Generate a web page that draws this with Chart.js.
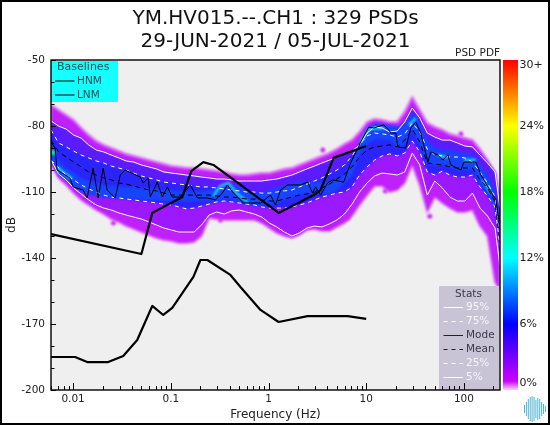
<!DOCTYPE html>
<html>
<head>
<meta charset="utf-8">
<title>YM.HV015 PSD PDF</title>
<style>
  html, body { margin: 0; padding: 0; background: #fff; }
  canvas { display: block; }
</style>
<script src="https://cdn.jsdelivr.net/npm/chart.js@4/dist/chart.umd.min.js"></script>
</head>
<body>
<canvas id="psdChart" width="550" height="425"></canvas>
<script>
// =============================================================================
// DATA (frequency in Hz, power in dB)
// =============================================================================
const titleLines = ['YM.HV015.--.CH1 : 329 PSDs', '29-JUN-2021 / 05-JUL-2021'];

const xLabelValues = [0.01, 0.1, 1, 10, 100];
const yLabelValues = [-50, -80, -110, -140, -170, -200];
const colorbarLabels = ['30+', '24%', '18%', '12%', '6%', '0%'];
const colorbarValues = [30, 24, 18, 12, 6, 0];
const baselineNames = ['HNM', 'LNM'];
const statNames = ['95%', '75%', 'Mode', 'Mean', '25%', '5%'];

const freqs = [
  0.00595, 0.0071, 0.00848, 0.01013, 0.01209, 0.01444, 0.01724, 0.02058, 0.02458, 0.02935,
  0.03504, 0.04184, 0.04996, 0.05965, 0.07122, 0.08504, 0.1015, 0.1212, 0.1448, 0.1729,
  0.2064, 0.2465, 0.2943, 0.3514, 0.4196, 0.501, 0.5982, 0.7142, 0.8528, 1.018,
  1.216, 1.452, 1.733, 2.07, 2.471, 2.951, 3.523, 4.207, 5.023, 5.998,
  7.162, 8.551, 10.21, 12.19, 14.56, 17.38, 20.76, 24.78, 29.59, 35.33,
  42.19, 50.37, 60.15, 71.82, 85.75, 102.4, 122.3, 146, 174.3, 208.2, 233
];

const p95 = [
  -77.7, -80, -81.4, -84.1, -85.5, -88.6, -90.9, -91.8, -93.2, -94.5,
  -95.9, -96.4, -97.7, -98.6, -99.5, -100.9, -101.4, -101.8, -102.3, -102.7,
  -103.2, -103.6, -104.1, -104.1, -104.5, -105, -105, -105, -105, -104.5,
  -104.1, -103.2, -102.3, -100.9, -99.5, -98.2, -96.8, -95.5, -94.1, -92.7,
  -91.4, -88.6, -83.2, -80.5, -80.9, -82.7, -82.3, -78.2, -71.8, -76.4,
  -83.2, -85, -86.4, -86.4, -87.7, -89.1, -89.5, -93.2, -96.8, -100.9, -116.8
];
const p75 = [
  -81.8, -87.7, -89.5, -91.4, -93.2, -94.5, -95.9, -96.8, -98.2, -99.1,
  -100, -101.4, -102.7, -103.6, -104.5, -105.5, -105.9, -106.4, -106.8, -107.3,
  -107.7, -107.7, -108.2, -108.6, -109.1, -109.5, -110, -110, -110.5, -110.5,
  -110, -109.5, -109.1, -107.7, -106.4, -105, -103.6, -101.8, -100, -97.7,
  -93.6, -88.2, -84.5, -83.2, -83.6, -84.1, -85, -83.6, -78.6, -82.7,
  -90.5, -93.2, -93.6, -94.1, -94.1, -94.5, -96.4, -100.9, -105.9, -112.3, -129.5
];
const mean = [
  -86.4, -91.8, -94.1, -96.4, -98.6, -100.9, -102.3, -103.6, -104.5, -105.9,
  -106.4, -107.3, -108.2, -109.1, -109.5, -110.5, -111.4, -111.4, -111.4, -111.4,
  -111.4, -111.4, -111.8, -112.3, -112.3, -112.7, -113.2, -113.2, -113.6, -114.1,
  -114.1, -113.2, -112.3, -111.4, -110.9, -110, -108.2, -106.4, -104.1, -101.8,
  -98.6, -94.1, -90.9, -89.5, -89.1, -88.6, -89.5, -86.4, -81.4, -87.3,
  -96.8, -97.3, -97.7, -98.6, -99.1, -99.1, -99.1, -104.5, -108.2, -114.5, -131.8
];
const p25 = [
  -95.5, -99.1, -102.3, -104.5, -106.8, -108.6, -110, -111.4, -112.3, -112.7,
  -113.2, -113.6, -114.1, -114.5, -115, -115.5, -115.9, -116.8, -117.7, -117.3,
  -116.4, -115.5, -114.5, -114.1, -114.5, -115, -115.5, -115.9, -116.8, -117.3,
  -117.3, -117.3, -116.8, -115.9, -115, -113.6, -112.3, -111.4, -110.5, -110,
  -107.7, -102.3, -98.6, -95.5, -93.6, -92.7, -93.6, -92.3, -86.8, -91.8,
  -100.9, -102.3, -100.5, -102.3, -103.2, -103.2, -102.3, -107.7, -111.8, -116.8, -134.1
];
const p5 = [
  -95.5, -101.8, -104.5, -108.2, -110.9, -113.6, -115.9, -117.3, -118.2, -119.5,
  -120.5, -121.4, -122.3, -123.6, -125, -126.4, -127.3, -128.2, -128.2, -128.2,
  -125, -120.5, -119.1, -120, -118.6, -118.2, -119.1, -120, -121.4, -124.1,
  -125.9, -128.2, -130, -128.6, -126.4, -125.5, -125.9, -124.5, -122.7, -120,
  -115.5, -110, -105.9, -102.7, -101.4, -101.8, -102.3, -100.9, -92.3, -97.7,
  -111.4, -105, -108.2, -112.3, -114.1, -114.1, -110.5, -117.3, -120.9, -126.4, -143.2
];

// edges of the coloured PDF cloud
const cloudTop = [
  -70.5, -72.7, -75, -77.3, -80.9, -84.1, -86.8, -88.6, -90, -91.4,
  -92.7, -93.6, -94.5, -95.5, -96.4, -97.3, -98.2, -98.6, -99.1, -99.1,
  -99.5, -100, -100.5, -100.9, -101.8, -102.3, -102.3, -101.8, -101.4, -101.4,
  -100.5, -99.5, -99.1, -97.7, -96.4, -95, -93.6, -92.3, -90.5, -88.2,
  -86.4, -82.7, -78.2, -76.8, -77.3, -78.2, -78.2, -73.6, -66.8, -72.7,
  -78.6, -80.5, -81.8, -83.6, -84.5, -85.5, -86.4, -90.5, -95.5, -101.4, -113.6
];
const cloudBottom = [
  -97.7, -103.6, -106.8, -110.5, -113.6, -115.9, -118.2, -120, -122.3, -123.6,
  -125.5, -126.8, -128.2, -129.5, -130.9, -131.8, -132.3, -133.2, -133.2, -132.7,
  -130, -121.8, -122.3, -122.7, -122.7, -122.7, -122.7, -122.7, -124.1, -126.4,
  -128.6, -130, -130.9, -129.5, -127.3, -126.8, -127.7, -127.7, -125.9, -124.1,
  -120.9, -115.9, -111.4, -107.3, -107.3, -110, -109.1, -105.9, -97.7, -106.8,
  -119.1, -112.3, -115, -117.3, -119.1, -119.1, -118.2, -125.5, -130, -150.9, -154.5
];
// brighter ridge of the cloud around the mode
const ridgeTop = [
  -86.4, -95.5, -99.1, -100.9, -103.6, -105, -105.9, -106.8, -107.3, -107.3,
  -107.7, -107.7, -108.2, -108.2, -108.6, -109.1, -109.1, -109.5, -109.5, -109.5,
  -109.5, -109.1, -108.2, -107.3, -106.8, -107.7, -109.5, -110.5, -110.5, -109.1,
  -108.2, -106.8, -105.9, -105.5, -105, -105.5, -105.5, -105, -104.5, -101.8,
  -95.5, -87.3, -80.9, -78.6, -79.1, -79.5, -80, -79.1, -73.6, -78.2,
  -86.4, -90, -90.9, -90.9, -91.8, -92.7, -93.2, -97.7, -102.3, -109.1, -122.7
];
const ridgeBottom = [
  -95.5, -102.3, -104.5, -107.7, -110, -111.4, -111.8, -112.7, -112.7, -113.2,
  -113.2, -113.2, -113.6, -113.6, -113.6, -114.1, -114.1, -114.1, -114.1, -114.1,
  -114.1, -114.1, -114.5, -113.6, -113.2, -114.5, -115.5, -116.4, -115.9, -115.5,
  -115.5, -113.6, -112.3, -111.4, -110.9, -110.5, -110.9, -110.9, -109.1, -105.9,
  -102.3, -93.2, -88.6, -86.4, -86.4, -86.4, -90, -88.6, -81.8, -88.6,
  -97.7, -97.7, -97.7, -99.1, -100, -100, -100, -105.9, -110.5, -118.2, -131.8
];

// the spots where the PDF gets to cyan, null breaks the streak
const hotFreqs = [
  0.00685, 0.0081, 0.0098, 0.1, 0.273, 0.3221, 0.389, 0.47, 0.61, 1,
  8.785, 10.62, 15.11, 20, 27.3, 32.2, 40, 54.1, 68.5, 80, 100, 132.8, 140, 156.7, 189
];
const hotDb = [
  -98.6, -101.4, -104.1, null, -111.8, -107.3, -105.9, -110.5, -114.5, null,
  -87.3, -81.4, -80.9, null, -79.5, -76.4, null, -93.2, -94.5, null, -95.5, -95.5, null, -104.5, -110.5
];
const greenFreqs = [0.00595, 0.00654];
const greenDb = [-91.8, -92.3];

// loose blobs off the main cloud
const speckFreqs = [0.02586, 0.3221, 3.6, 6.46, 15.7, 20.5, 44.7, 93.2];
const speckDb = [-124.1, -122.7, -90.9, -121.8, -109.6, -107.3, -121, -83.6];

const modeFreqs = [
  0.00595, 0.00654, 0.00685, 0.00931, 0.01, 0.01267, 0.01393, 0.01604, 0.01805, 0.02031,
  0.02234, 0.02698, 0.03034, 0.03414, 0.04866, 0.05224, 0.05877, 0.06166, 0.07278, 0.0819,
  0.09204, 0.1035, 0.1251, 0.1585, 0.187, 0.2366, 0.2858, 0.3373, 0.3793, 0.4375,
  0.5546, 0.8279, 1.048, 1.18, 1.327, 1.567, 2.13, 2.512, 2.826, 3.034,
  3.415, 4.027, 4.529, 5.875, 6.934, 8.785, 10.62, 11.94, 15.11, 17.02,
  17.83, 20.07, 21.05, 25.42, 28.59, 32.2, 36.2, 42.7, 45.9, 54.1,
  60.9, 68.5, 73.6, 93.2, 100, 132.8, 149.4, 176.2, 212.8, 231
];
const modeDb = [
  -87.3, -90, -100, -103.6, -107.7, -109.1, -112.7, -99.1, -112.7, -99.1,
  -109.1, -112.7, -102.3, -100, -103.2, -105.9, -103.6, -112.3, -105.5, -112.3,
  -107.7, -112.3, -112.3, -106.8, -112.7, -112.7, -113.6, -110.5, -106.8, -110.5,
  -115, -115, -111.4, -115.9, -109.1, -106.8, -106.8, -105.5, -110.5, -107.7,
  -111.4, -105.9, -104.5, -105.5, -96.8, -87.3, -80.5, -80.9, -79.5, -81.8,
  -83.2, -83.2, -89.5, -90, -80.9, -78.2, -83.2, -96.4, -91.8, -93.2,
  -95.5, -93.2, -97.7, -100, -96.4, -96.4, -102.3, -107.7, -113.6, -125
];

const hnmFreqs = [0.00595, 0.05, 0.0646, 0.1312, 0.162, 0.2153, 0.273, 1.048, 1.268, 2.9, 3.41, 4.64, 10];
const hnmDb = [-129.1, -138.2, -119.5, -112.3, -100.5, -96.4, -97.7, -116.8, -119.5, -111.4, -109.1, -94.5, -89.1];

const lnmFreqs = [
  0.00595, 0.01048, 0.01393, 0.02286, 0.0326, 0.0453, 0.0646, 0.0837, 0.1035, 0.1703,
  0.2009, 0.2366, 0.4074, 0.5164, 0.8279, 1.268, 2.512, 6.46, 10
];
const lnmDb = [
  -185, -185, -187.3, -187.3, -184.5, -177.3, -161.8, -165.9, -162.7, -148.6,
  -140.9, -140.9, -147.7, -153.2, -163.6, -169.1, -166.4, -166.4, -167.7
];

// =============================================================================
// DATASETS
// =============================================================================
function pts(xs, ys) {
  return xs.map((x, i) => ({ x: x, y: ys[i] }));
}

const datasets = [];

function addLine(xs, ys, color, width, dash, order) {
  datasets.push({
    data: pts(xs, ys),
    borderColor: color,
    borderWidth: width,
    borderDash: dash || [],
    fill: false,
    order: order
  });
}

// band between two curves, the top curve fills down to the next dataset
function addBand(top, bottom, color, order, edge) {
  const line = edge || 'rgba(0,0,0,0)';
  const width = edge ? 3 : 0;
  datasets.push({ data: pts(freqs, top), backgroundColor: color, borderColor: line, borderWidth: width, fill: '+1', order: order });
  datasets.push({ data: pts(freqs, bottom), borderColor: line, borderWidth: width, fill: false, order: order });
}

addLine(hnmFreqs, hnmDb, '#000', 2.2, null, 1);
addLine(lnmFreqs, lnmDb, '#000', 2.2, null, 1);
addLine(modeFreqs, modeDb, '#000', 1, null, 2);
addLine(freqs, mean, '#000', 1, [5, 4], 3);
addLine(freqs, p95, '#fff', 1, null, 4);
addLine(freqs, p75, '#fff', 1, [4, 4], 4);
addLine(freqs, p25, '#fff', 1, [4, 4], 4);
addLine(freqs, p5, '#fff', 1, null, 4);
addLine(greenFreqs, greenDb, '#14f08c', 5, null, 5);
addLine(hotFreqs, hotDb, '#1ad2f2', 2.5, null, 6);
addBand(ridgeTop, ridgeBottom, '#1644ff', 7);
addBand(p75, p25, '#2a24ff', 8);
addBand(p95, mean, '#5a1cff', 9);
addBand(p95, p5, '#9c18ff', 10);
addBand(cloudTop, cloudBottom, '#c020fb', 11, 'rgba(226,110,245,0.5)');

datasets.push({
  data: pts(speckFreqs, speckDb),
  showLine: false,
  pointRadius: 2.5,
  pointBackgroundColor: '#cc30f8',
  pointBorderWidth: 0,
  order: 12
});

// =============================================================================
// DECORATION - plot background, ticks, frame, legends, colour bar, logo
// =============================================================================
const FONT = '"DejaVu Sans"';
const logoBars = [4, 7, 10, 12, 13, 12, 9, 11, 10, 7, 5, 3];

function drawStatLine(ctx, y, color, dash) {
  ctx.save();
  ctx.strokeStyle = color;
  ctx.lineWidth = 1;
  ctx.setLineDash(dash);
  ctx.beginPath();
  ctx.moveTo(443.5, y);
  ctx.lineTo(463, y);
  ctx.stroke();
  ctx.restore();
}

const decor = {
  id: 'decor',
  beforeDraw(chart) {
    const { ctx, chartArea: a } = chart;
    ctx.save();
    ctx.fillStyle = '#efefef';
    ctx.fillRect(a.left, a.top, a.right - a.left, a.bottom - a.top);
    ctx.restore();
  },
  // soften the edges of the cloud, the curves stay sharp
  beforeDatasetsDraw(chart) {
    chart.ctx.filter = 'blur(1px)';
  },
  beforeDatasetDraw(chart, args) {
    chart.ctx.filter = chart.data.datasets[args.index].order >= 5 ? 'blur(1px)' : 'none';
  },
  afterDatasetsDraw(chart) {
    chart.ctx.filter = 'none';
  },
  afterDraw(chart) {
    const { ctx, chartArea: a, scales } = chart;
    ctx.save();

    // baselines box
    ctx.fillStyle = '#14ffff';
    ctx.fillRect(51, 61, 67, 41);
    ctx.fillStyle = '#2b4a50';
    ctx.textBaseline = 'middle';
    ctx.textAlign = 'left';
    ctx.font = '11px ' + FONT;
    ctx.fillText('Baselines', 57, 67.5);
    ctx.font = '10.5px ' + FONT;
    baselineNames.forEach((name, i) => {
      const y = 81 + i * 14;
      ctx.fillStyle = '#2b4a50';
      ctx.fillText(name, 77, y);
      ctx.strokeStyle = '#000';
      ctx.lineWidth = 1;
      ctx.beginPath();
      ctx.moveTo(55, y);
      ctx.lineTo(74.5, y);
      ctx.stroke();
    });

    // stats box
    ctx.fillStyle = '#c9c3d6';
    ctx.fillRect(439, 286, 60, 104);
    ctx.fillStyle = '#3c3a48';
    ctx.textAlign = 'center';
    ctx.fillText('Stats', 468.5, 294);
    ctx.textAlign = 'left';
    const statLook = [
      ['#fff', []], ['#fff', [4, 4]], ['#222', []], ['#222', [4, 4]], ['#fff', [4, 4]], ['#fff', []]
    ];
    statNames.forEach((name, i) => {
      const y = 307.5 + i * 14;
      drawStatLine(ctx, y, statLook[i][0], statLook[i][1]);
      ctx.fillStyle = statLook[i][0] === '#fff' ? '#f6f4fa' : '#3c3a48';
      ctx.fillText(name, 466, y);
    });

    // ticks go inward, they are shorter for the unlabelled ones
    ctx.strokeStyle = '#000';
    ctx.lineWidth = 1;
    scales.x.ticks.forEach(t => {
      const x = Math.round(scales.x.getPixelForValue(t.value)) + 0.5;
      const len = xLabelValues.includes(t.value) ? 7 : 4;
      ctx.beginPath();
      ctx.moveTo(x, a.bottom);
      ctx.lineTo(x, a.bottom - len);
      ctx.stroke();
    });
    scales.y.ticks.forEach(t => {
      const y = Math.round(scales.y.getPixelForValue(t.value)) + 0.5;
      const len = yLabelValues.includes(t.value) ? 5 : 3.5;
      ctx.beginPath();
      ctx.moveTo(a.left, y);
      ctx.lineTo(a.left + len, y);
      ctx.stroke();
    });

    // frame
    ctx.lineWidth = 1.4;
    ctx.strokeRect(a.left, a.top, a.right - a.left, a.bottom - a.top);

    // colour bar
    const grad = ctx.createLinearGradient(0, a.bottom, 0, a.top);
    grad.addColorStop(0, '#f2d2f6');
    grad.addColorStop(0.027, '#cc00ff');
    grad.addColorStop(0.2, '#0000ff');
    grad.addColorStop(0.4, '#00ffff');
    grad.addColorStop(0.6, '#00ff00');
    grad.addColorStop(0.8, '#ffff00');
    grad.addColorStop(1, '#ff0000');
    ctx.fillStyle = grad;
    ctx.fillRect(503, a.top, 15, a.bottom - a.top);
    ctx.fillStyle = '#222';
    ctx.font = '11px ' + FONT;
    colorbarLabels.forEach((label, i) => {
      let y = a.bottom - colorbarValues[i] * (a.bottom - a.top) / 30;
      if (i === 0) y += 5;
      if (i === colorbarLabels.length - 1) y -= 7;
      ctx.fillText(label, 519.5, y);
    });

    ctx.textAlign = 'right';
    ctx.font = '10.5px ' + FONT;
    ctx.fillText('PSD PDF', 500, 53);

    // little waveform logo
    ctx.strokeStyle = '#4fb4d4';
    ctx.lineWidth = 1;
    logoBars.forEach((h, i) => {
      const x = 524.5 + i * 1.9;
      ctx.beginPath();
      ctx.moveTo(x, 409 - h);
      ctx.lineTo(x, 409 + h);
      ctx.stroke();
    });

    // black edge round the whole picture
    ctx.strokeStyle = '#000';
    ctx.lineWidth = 2;
    ctx.strokeRect(1, 1, 548, 423);

    ctx.restore();
  }
};

// =============================================================================
// CHART
// =============================================================================
Chart.defaults.font.family = FONT;

new Chart(document.getElementById('psdChart'), {
  type: 'line',
  data: { datasets: datasets },
  plugins: [decor],
  options: {
    responsive: false,
    animation: false,
    events: [],
    layout: { padding: { right: 50 } },
    elements: { point: { radius: 0 }, line: { tension: 0, borderJoinStyle: 'round' } },
    plugins: {
      legend: { display: false },
      tooltip: { enabled: false },
      title: {
        display: true,
        fullSize: false,
        text: titleLines,
        color: '#111',
        font: { size: 20, weight: 'normal', lineHeight: 1.15 },
        padding: { top: 7, bottom: 7 }
      }
    },
    scales: {
      x: {
        type: 'logarithmic',
        min: 0.00594,
        max: 234,
        afterFit: s => { s.height = 35; },
        afterBuildTicks: s => {
          const ticks = [];
          xLabelValues.forEach(v => {
            for (let m = 1; m < 10; m++) {
              const value = Number((v * m).toPrecision(3));
              if (value <= s.max) ticks.push({ value: value });
            }
          });
          [0.006, 0.007, 0.008, 0.009].forEach(v => ticks.unshift({ value: v }));
          s.ticks = ticks;
        },
        grid: { display: false, drawTicks: false },
        border: { display: false },
        ticks: {
          color: '#222',
          autoSkip: false,
          maxRotation: 0,
          padding: 3,
          font: { size: 10.5 },
          callback: v => xLabelValues.includes(v) ? String(v) : ''
        },
        title: { display: true, text: 'Frequency (Hz)', color: '#222', font: { size: 12 }, padding: { top: 0, bottom: 3 } }
      },
      y: {
        min: -200,
        max: -50,
        afterFit: s => { s.width = 51; },
        grid: { display: false, drawTicks: false },
        border: { display: false },
        ticks: {
          stepSize: 10,
          color: '#222',
          autoSkip: false,
          padding: 6,
          font: { size: 10.5 },
          callback: v => yLabelValues.includes(v) ? String(v) : ''
        },
        title: { display: true, text: 'dB', color: '#222', font: { size: 12 }, padding: { top: 5, bottom: 0 } }
      }
    }
  }
});
</script>
</body>
</html>
